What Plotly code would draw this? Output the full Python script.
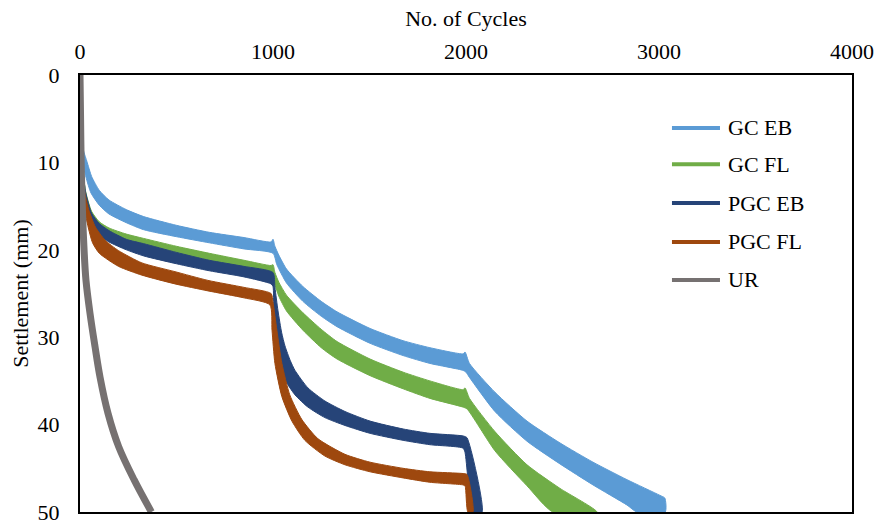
import plotly.graph_objects as go

# ---------------- data ----------------
series_names = ["GC EB", "GC FL", "PGC EB", "PGC FL", "UR"]
series_colors = ["#5B9BD5", "#70AD47", "#264478", "#9E480E", "#767171"]

# GC EB band (upper edge = smaller settlement, lower edge = larger settlement)
gceb_top_x = [3, 20, 36, 60, 100, 150, 240, 330, 500, 670, 850, 990, 1000, 1010, 1030, 1070, 1155, 1250, 1332, 1503, 1674, 1813, 1985, 1995, 2018, 2150, 2316, 2487, 2658, 2834, 3005, 3030, 3032]
gceb_top_y = [7.0, 8.8, 9.9, 11.6, 13.2, 14.3, 15.4, 16.2, 17.2, 18.0, 18.6, 19.1, 18.8, 19.6, 20.6, 22.2, 24.2, 25.9, 27.1, 29.0, 30.4, 31.2, 31.9, 31.7, 33.0, 36.3, 39.6, 42.1, 44.3, 46.3, 48.1, 48.4, 50.0]
gceb_bot_x = [3, 10, 31, 57, 100, 150, 240, 330, 500, 670, 850, 1000, 1020, 1070, 1155, 1250, 1332, 1503, 1674, 1813, 1985, 2000, 2018, 2150, 2316, 2487, 2658, 2834, 2885]
gceb_bot_y = [7.5, 9.5, 11.7, 13.5, 14.9, 15.9, 16.9, 17.7, 18.5, 19.2, 19.9, 20.4, 21.7, 23.8, 25.9, 27.6, 28.8, 30.7, 32.1, 33.0, 33.8, 34.0, 34.6, 38.5, 41.9, 44.5, 46.9, 49.2, 50.0]

# GC FL band
gcfl_top_x = [3, 15, 30, 60, 100, 150, 240, 330, 500, 670, 850, 990, 1000, 1010, 1030, 1070, 1155, 1250, 1332, 1503, 1674, 1813, 1985, 1995, 2018, 2150, 2316, 2487, 2678]
gcfl_top_y = [7.5, 11.0, 13.4, 15.6, 16.8, 17.5, 18.2, 18.7, 19.6, 20.4, 21.2, 21.8, 21.7, 22.6, 23.7, 25.2, 27.2, 29.1, 30.5, 32.5, 34.0, 35.0, 36.0, 35.8, 37.0, 40.8, 44.6, 47.3, 50.0]
gcfl_bot_x = [3, 15, 30, 60, 100, 150, 240, 330, 500, 670, 850, 1000, 1010, 1030, 1070, 1155, 1250, 1332, 1503, 1674, 1813, 1985, 2005, 2150, 2316, 2450]
gcfl_bot_y = [8.5, 12.0, 14.5, 16.6, 17.8, 18.6, 19.4, 20.0, 20.9, 21.6, 22.3, 23.0, 24.0, 25.3, 27.0, 29.2, 31.2, 32.5, 34.4, 35.9, 37.0, 38.0, 38.2, 43.0, 47.0, 50.0]

# PGC EB band
pgceb_top_x = [3, 15, 30, 60, 100, 150, 240, 330, 500, 670, 850, 1000, 1010, 1026, 1045, 1062, 1090, 1114, 1181, 1269, 1373, 1503, 1674, 1813, 1985, 2005, 2083]
pgceb_top_y = [7.5, 11.0, 13.5, 15.8, 17.0, 17.8, 18.8, 19.3, 20.3, 21.2, 21.9, 22.6, 24.3, 27.0, 29.5, 31.0, 32.7, 33.8, 35.8, 37.3, 38.5, 39.6, 40.5, 41.0, 41.3, 41.5, 50.0]
pgceb_bot_x = [3, 8, 18, 40, 100, 150, 240, 330, 500, 670, 850, 990, 1000, 1004, 1021, 1040, 1060, 1114, 1181, 1269, 1373, 1503, 1674, 1813, 1985, 1995, 2038]
pgceb_bot_y = [8.5, 11.0, 13.5, 16.6, 18.3, 19.1, 20.0, 20.7, 21.6, 22.4, 23.1, 23.9, 24.2, 27.0, 31.0, 33.4, 34.8, 36.6, 38.0, 39.2, 40.1, 41.0, 41.8, 42.3, 42.7, 43.2, 50.0]

# PGC FL band
pgcfl_top_x = [3, 10, 25, 45, 80, 130, 200, 321, 492, 663, 850, 990, 1000, 1020, 1046, 1087, 1149, 1232, 1373, 1503, 1674, 1813, 1985, 2005, 2036]
pgcfl_top_y = [7.0, 10.0, 13.5, 15.4, 17.4, 18.9, 20.1, 21.5, 22.5, 23.5, 24.3, 25.0, 26.0, 29.2, 33.0, 36.6, 39.4, 41.6, 43.4, 44.3, 45.0, 45.4, 45.6, 45.7, 50.0]
pgcfl_bot_x = [3, 10, 25, 40, 65, 100, 200, 321, 492, 663, 850, 984, 995, 1010, 1046, 1098, 1165, 1269, 1373, 1503, 1674, 1813, 1985, 1995, 2010]
pgcfl_bot_y = [8.5, 12.0, 15.5, 17.2, 19.2, 20.4, 21.9, 22.9, 23.9, 24.7, 25.5, 26.3, 29.2, 33.0, 36.8, 39.6, 41.8, 43.6, 44.6, 45.4, 46.1, 46.6, 46.9, 47.0, 50.0]

# UR (single narrow line)
ur_x = [0, 3, 6, 12, 20, 31, 52, 78, 104, 145, 200, 280, 370]
ur_y = [0, 5, 10, 15, 19.5, 23.5, 27.3, 31.1, 34.6, 38.7, 42.5, 46.3, 50.0]

x_ticks = [0, 1000, 2000, 3000, 4000]
y_ticks = [0, 10, 20, 30, 40, 50]

bands = [
    (gceb_top_x, gceb_top_y, gceb_bot_x, gceb_bot_y),
    (gcfl_top_x, gcfl_top_y, gcfl_bot_x, gcfl_bot_y),
    (pgceb_top_x, pgceb_top_y, pgceb_bot_x, pgceb_bot_y),
    (pgcfl_top_x, pgcfl_top_y, pgcfl_bot_x, pgcfl_bot_y),
]

FONT = "Liberation Serif"
FS = 22

fig = go.Figure()
for i, (tx, ty, bx, by) in enumerate(bands):
    fig.add_trace(go.Scatter(
        x=tx + bx[::-1], y=ty + by[::-1], mode="lines", fill="toself",
        fillcolor=series_colors[i], name=series_names[i],
        line=dict(color=series_colors[i], width=1, shape="spline", smoothing=0.6),
        showlegend=False, hoverinfo="skip"))

fig.add_trace(go.Scatter(x=ur_x, y=ur_y, mode="lines", name=series_names[4],
                         line=dict(color=series_colors[4], width=7, shape="spline", smoothing=1.0),
                         showlegend=False, hoverinfo="skip"))

# legend drawn in paper coordinates (line sample + label)
legend_rows = [0.879, 0.796, 0.707, 0.618, 0.531]
for name, col, yy in zip(series_names, series_colors, legend_rows):
    fig.add_shape(type="line", xref="paper", yref="paper",
                  x0=0.7668, x1=0.8290, y0=yy, y1=yy,
                  line=dict(color=col, width=4))
    fig.add_annotation(xref="paper", yref="paper", x=0.8368, y=yy,
                       text=name, showarrow=False, xanchor="left", yanchor="middle",
                       font=dict(family=FONT, size=FS, color="black"))

fig.update_layout(
    width=881, height=527, autosize=False,
    margin=dict(l=80, r=29, t=75, b=15, autoexpand=False),
    paper_bgcolor="white", plot_bgcolor="white",
    font=dict(family=FONT, size=FS, color="black"),
    showlegend=False,
    xaxis=dict(side="top", range=[0, 4000], tickvals=x_ticks, automargin=False,
               showgrid=False, zeroline=False, showline=True, linecolor="black",
               linewidth=2, mirror=True, ticks="", ticklabelstandoff=5,
               tickfont=dict(family=FONT, size=FS),
               title=dict(text="No. of Cycles", font=dict(size=FS, family=FONT), standoff=7)),
    yaxis=dict(range=[50, 0], tickvals=y_ticks, automargin=False,
               showgrid=False, zeroline=False, showline=True, linecolor="black",
               linewidth=2, mirror=True, ticks="", ticklabelstandoff=14,
               tickfont=dict(family=FONT, size=FS),
               title=dict(text="Settlement (mm)", font=dict(size=FS, family=FONT), standoff=3)),
)

fig.write_html("out.html")
